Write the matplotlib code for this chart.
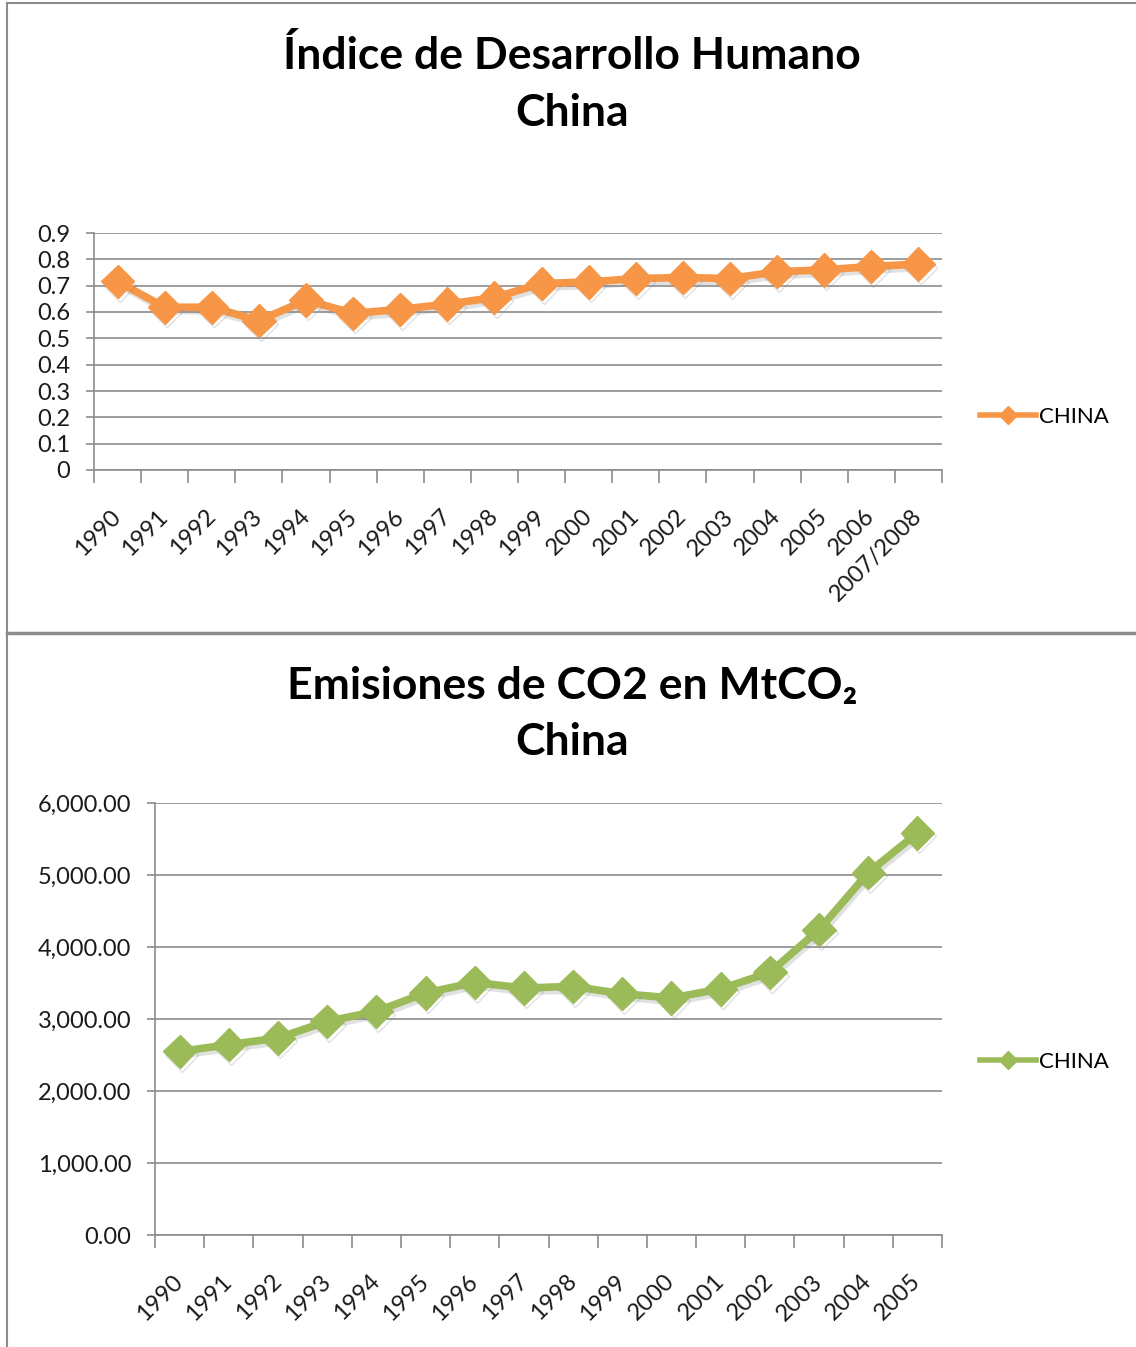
import numpy as np
import matplotlib.pyplot as plt
import matplotlib.patheffects as pe
from matplotlib.lines import Line2D
from matplotlib.ticker import FuncFormatter

# datos IDH China
idh_years = ["1990", "1991", "1992", "1993", "1994", "1995", "1996", "1997", "1998",
             "1999", "2000", "2001", "2002", "2003", "2004", "2005", "2006", "2007/2008"]
idh_values = [0.716, 0.618, 0.618, 0.567, 0.645, 0.595, 0.610, 0.630, 0.655,
              0.708, 0.714, 0.727, 0.731, 0.727, 0.753, 0.760, 0.773, 0.782]

# datos emisiones CO2 China
co2_years = ["1990", "1991", "1992", "1993", "1994", "1995", "1996", "1997",
             "1998", "1999", "2000", "2001", "2002", "2003", "2004", "2005"]
co2_values = [2550, 2643, 2736, 2967, 3106, 3361, 3508, 3430,
              3453, 3351, 3292, 3417, 3647, 4240, 5033, 5583]

plt.rcParams['font.family'] = ['Lato', 'DejaVu Sans']

W, H = 1136, 1347
fig = plt.figure(figsize=(W / 100, H / 100), dpi=100)

def fx(px):
    return px / W

def fy(py):
    return 1 - py / H

# marcos de los dos graficos
border = '#8c8c8c'
fig.add_artist(Line2D([fx(7), fx(7)], [fy(3), fy(1347)], color=border, lw=1.5))
fig.add_artist(Line2D([fx(7), fx(1136)], [fy(3), fy(3)], color=border, lw=1.5))
fig.add_artist(Line2D([fx(7), fx(1136)], [fy(633), fy(633)], color=border, lw=2.5))


def draw(rect, labels, values, color, ylim, yticks, fmt, title_y, title, leg_y):
    ax = fig.add_axes(rect)
    n = len(labels)
    x = np.arange(n)
    shadow = [pe.SimpleLineShadow(offset=(1.5, -2.5), shadow_color='#888888', alpha=0.25), pe.Normal()]
    ax.plot(x, values, color=color, lw=5.5, marker='D', ms=17, mec=color, mfc=color,
            path_effects=shadow, zorder=3)
    ax.set_xlim(-0.5, n - 0.5)
    ax.set_ylim(*ylim)
    ax.set_yticks(yticks)
    ax.yaxis.set_major_formatter(FuncFormatter(fmt))
    ax.set_xticks(x)
    ax.set_xticklabels(labels, rotation=45, ha='right', va='center', rotation_mode='anchor')
    ax.set_xticks(np.arange(n + 1) - 0.5, minor=True)
    ax.tick_params(axis='x', which='major', length=0, pad=31, labelsize=17, labelcolor='#1a1a1a')
    ax.tick_params(axis='x', which='minor', length=9, color='#8c8c8c', width=1.2)
    ax.tick_params(axis='y', length=6, color='#8c8c8c', width=1.2, labelsize=17,
                   labelcolor='#1a1a1a', pad=11)
    ax.grid(axis='y', color='#8c8c8c', lw=1.2)
    ax.set_axisbelow(True)
    for s in ['top', 'right']:
        ax.spines[s].set_visible(False)
    ax.spines['left'].set_color('#8c8c8c')
    ax.spines['bottom'].set_color('#8c8c8c')
    ax.spines['left'].set_linewidth(1.2)
    ax.spines['bottom'].set_linewidth(1.2)
    fig.text(fx(572), fy(title_y), title, ha='center', va='center', fontsize=32,
             fontweight='bold', linespacing=1.5, color='black')
    h = Line2D([], [], color=color, lw=4, marker='D', ms=9, mec=color, mfc=color)
    fig.legend([h], ['CHINA'], loc='center left', bbox_to_anchor=(fx(980), fy(leg_y)),
               frameon=False, fontsize=16, handlelength=2.5, handletextpad=0.15,
               borderpad=0, borderaxespad=0)
    return ax


draw([fx(94), fy(470), fx(942 - 94), (470 - 233) / H], idh_years, idh_values, '#F79646',
     (0, 0.9), np.arange(0, 0.91, 0.1),
     lambda v, p: '0' if abs(v) < 1e-9 else f'{v:.1f}',
     84, 'Índice de Desarrollo Humano\nChina', 417)

draw([fx(155), fy(1235), fx(942 - 155), (1235 - 803) / H], co2_years, co2_values, '#9BBB59',
     (0, 6000), np.arange(0, 6001, 1000),
     lambda v, p: f'{v:,.2f}',
     714, 'Emisiones de CO2 en MtCO₂\nChina', 1062)

fig.savefig('out.png', dpi=100)
